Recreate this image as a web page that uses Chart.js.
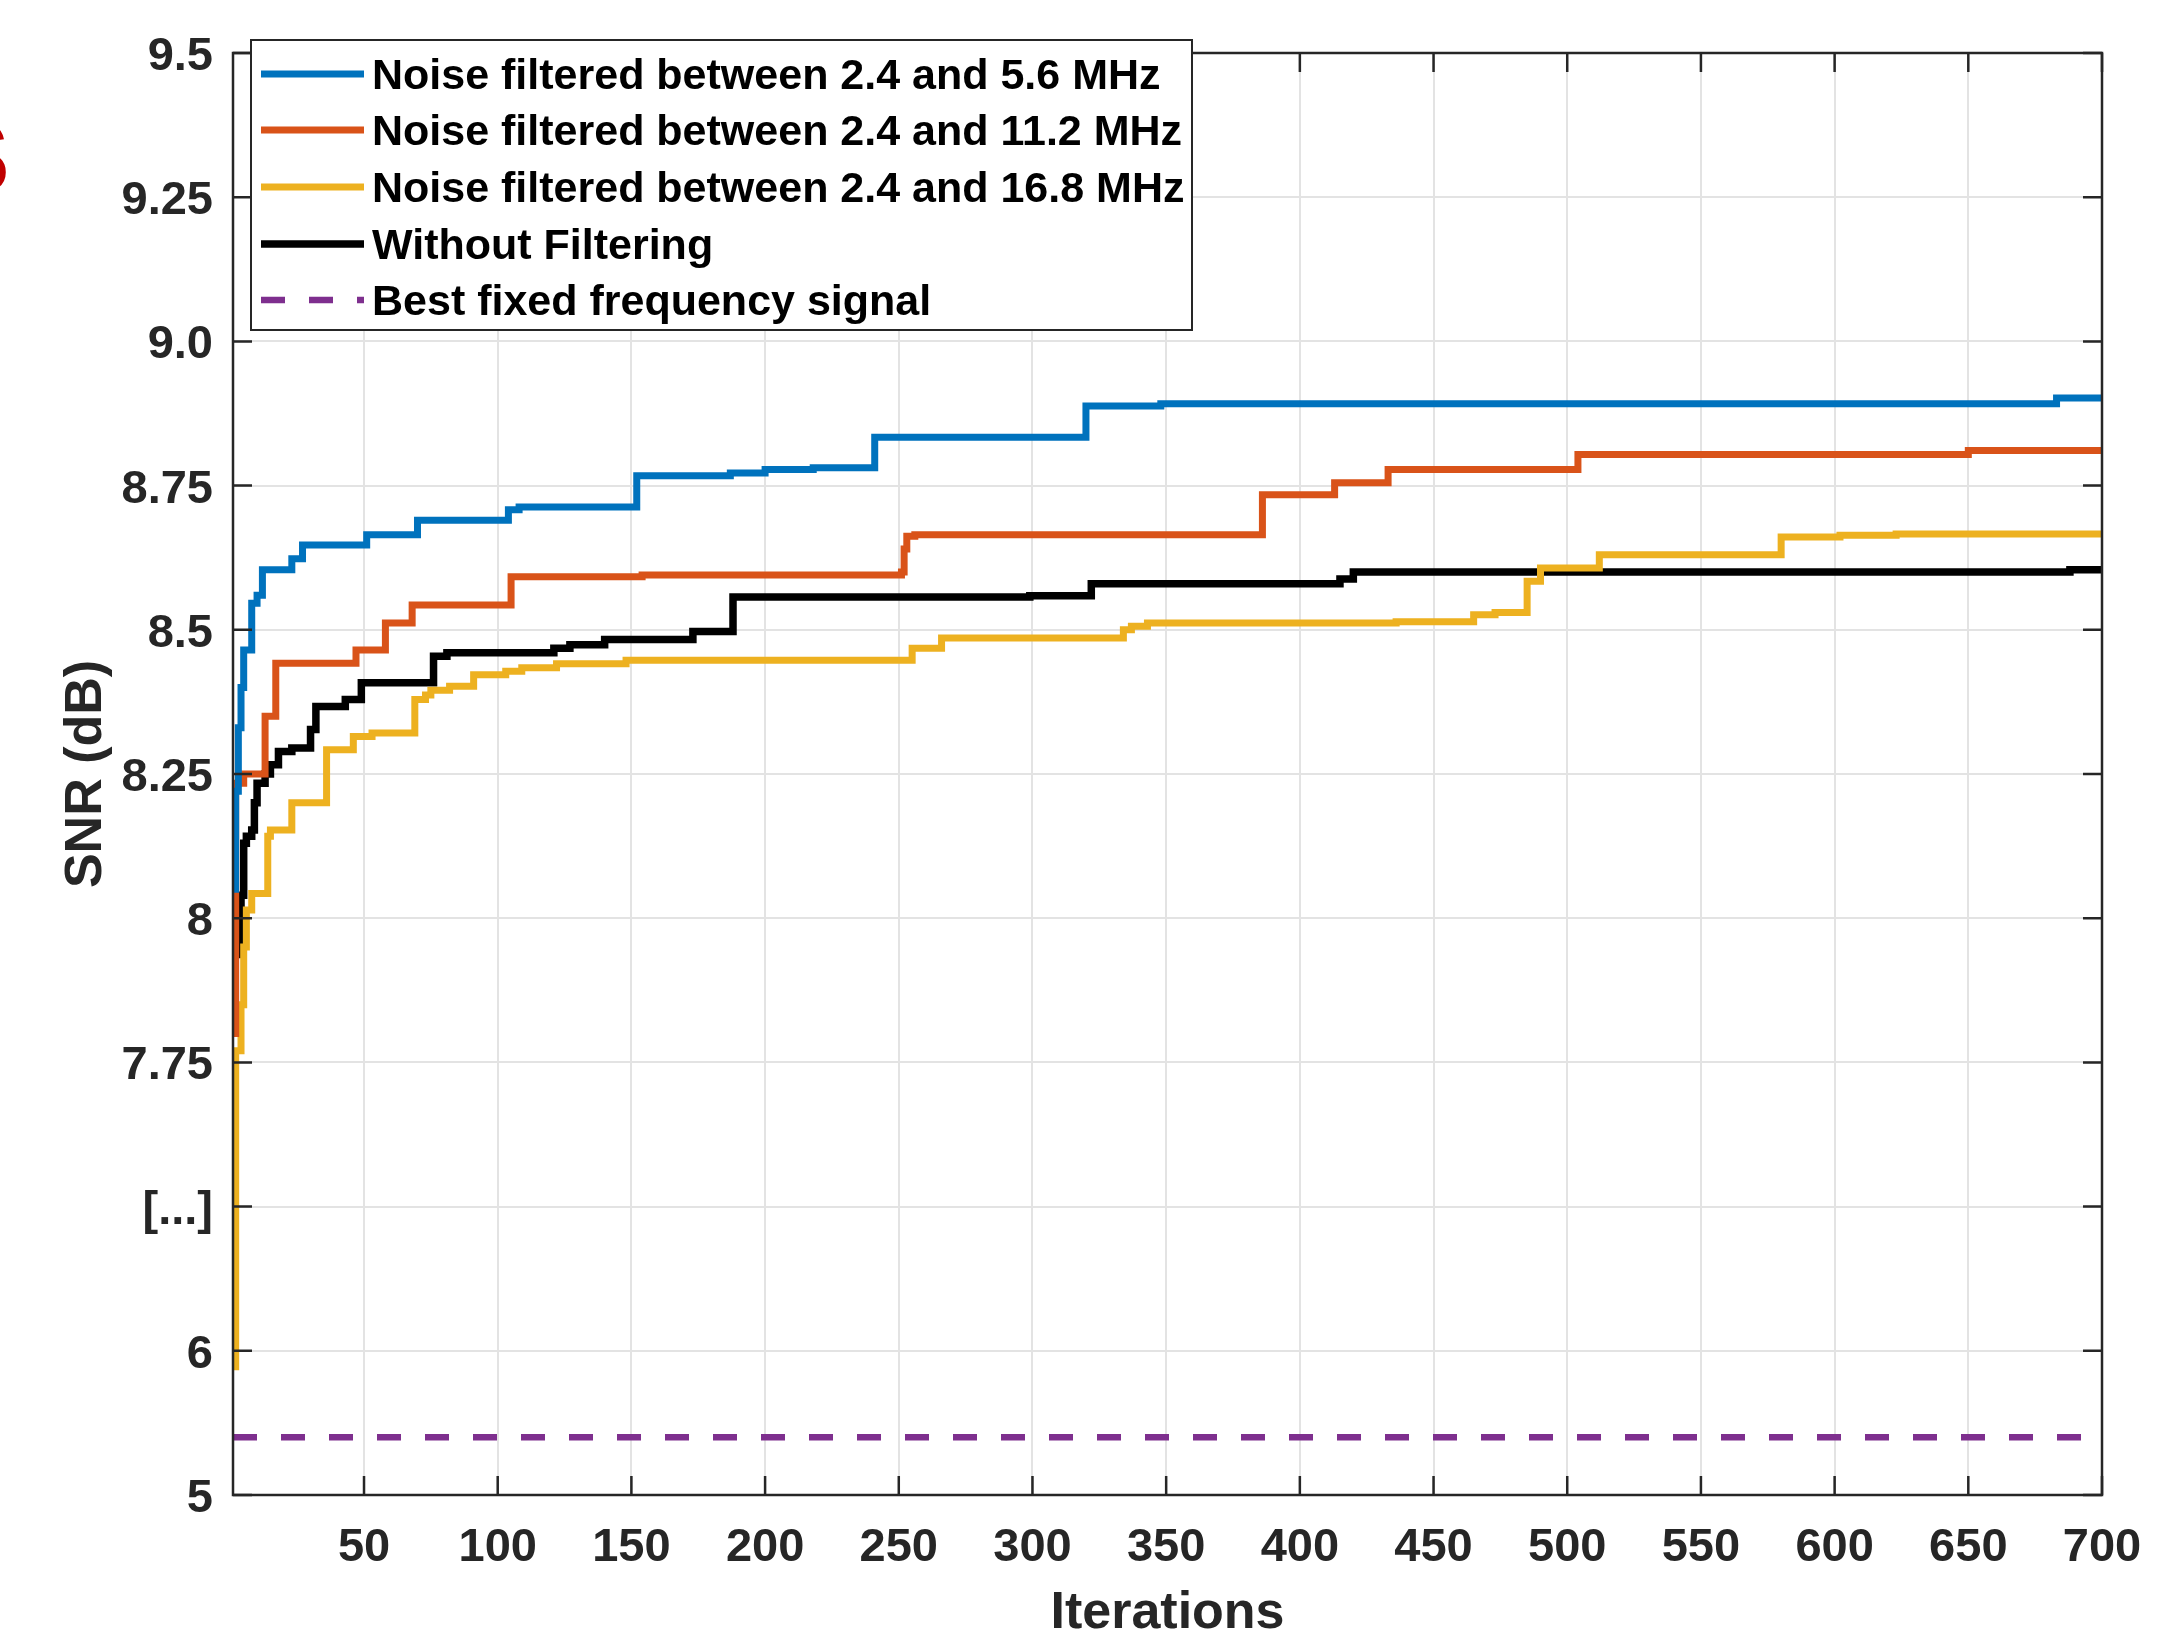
<!DOCTYPE html>
<html lang="en">
<head>
    <meta charset="UTF-8">
    <title>SNR vs Iterations</title>
    <script src="https://cdn.jsdelivr.net/npm/chart.js"></script>
    <style>
        body { margin: 0; background: #fff; }
        #wrap { position: relative; width: 2184px; height: 1637px; overflow: hidden; }
        #cut { position: absolute; left: -57px; top: 107px; font: bold 100px "Liberation Sans", Arial, sans-serif; line-height: 1; color: #c00000; }
    </style>
</head>
<body>
<div id="wrap">
    <canvas id="snrChart"></canvas>
    <div id="cut">S</div>
</div>

<script>
// iteration where each step starts, and the SNR value from there on
const blueX   = [1, 2, 3, 4, 5, 8, 10, 12, 23, 27, 51, 70, 104, 108, 152, 187, 200, 218, 241, 320, 348, 683, 700];
const blueY   = [8.05, 8.22, 8.33, 8.40, 8.465, 8.546, 8.56, 8.604, 8.623, 8.647, 8.665, 8.69, 8.708, 8.713, 8.767, 8.772, 8.778, 8.781, 8.834, 8.888, 8.892, 8.902, 8.902];

const orangeX = [1, 2, 5, 13, 17, 47, 58, 68, 105, 154, 251, 252, 253, 256, 386, 413, 433, 504, 650, 700];
const orangeY = [7.80, 8.234, 8.25, 8.35, 8.442, 8.465, 8.512, 8.543, 8.592, 8.595, 8.60, 8.64, 8.662, 8.665, 8.734, 8.755, 8.778, 8.804, 8.811, 8.811];

const yellowX = [1, 2, 4, 5, 6, 8, 14, 15, 23, 36, 46, 53, 69, 73, 75, 82, 91, 103, 109, 122, 148, 255, 266, 334, 337, 343, 436, 465, 473, 485, 490, 512, 580, 602, 623, 700];
const yellowY = [5.89, 7.77, 7.85, 7.95, 8.014, 8.043, 8.142, 8.153, 8.20, 8.292, 8.315, 8.321, 8.379, 8.387, 8.395, 8.402, 8.422, 8.428, 8.434, 8.441, 8.447, 8.468, 8.486, 8.50, 8.506, 8.512, 8.514, 8.526, 8.53, 8.584, 8.607, 8.63, 8.661, 8.664, 8.666, 8.666];

const blackX  = [1, 3, 4, 5, 6, 8, 9, 10, 13, 15, 18, 23, 30, 32, 43, 49, 76, 81, 121, 127, 140, 173, 188, 299, 322, 415, 420, 688, 700];
const blackY  = [7.937, 7.95, 8.04, 8.13, 8.142, 8.153, 8.20, 8.234, 8.25, 8.266, 8.289, 8.295, 8.327, 8.367, 8.379, 8.408, 8.454, 8.46, 8.468, 8.474, 8.483, 8.497, 8.557, 8.559, 8.58, 8.588, 8.60, 8.604, 8.604];

const bestX   = [1, 700];
const bestY   = [5.4, 5.4];

const seriesNames = [
    'Noise filtered between 2.4 and 5.6 MHz',
    'Noise filtered between 2.4 and 11.2 MHz',
    'Noise filtered between 2.4 and 16.8 MHz',
    'Without Filtering',
    'Best fixed frequency signal'
];

const xTicks = [50, 100, 150, 200, 250, 300, 350, 400, 450, 500, 550, 600, 650, 700];
const yTickValues = [5, 6, 7.5, 7.75, 8, 8.25, 8.5, 8.75, 9, 9.25, 9.5];
const yTickLabels = ['5', '6', '[...]', '7.75', '8', '8.25', '8.5', '8.75', '9.0', '9.25', '9.5'];

const FONT = '"Liberation Sans", Arial, Helvetica, sans-serif';
const AXIS = '#262626';

// broken y axis: 5..6, then a gap up to 7.5, then 7.5..9.5 in steps of 0.25 (all ticks evenly spaced)
function toAxis(v) {
    if (v <= 6) return v - 5;
    if (v < 7.5) return 1 + (v - 6) / 1.5;
    return 2 + (v - 7.5) / 0.25;
}
function fromAxis(a) {
    if (a <= 1) return a + 5;
    if (a < 2) return 6 + (a - 1) * 1.5;
    return 7.5 + (a - 2) * 0.25;
}

class BrokenScale extends Chart.LinearScale {
    getPixelForValue(value) {
        return this.getPixelForDecimal(toAxis(value) / 10);
    }
    getValueForPixel(pixel) {
        return fromAxis(this.getDecimalForPixel(pixel) * 10);
    }
}
BrokenScale.id = 'broken';
BrokenScale.defaults = Chart.LinearScale.defaults;
Chart.register(BrokenScale);

const pts = (xs, ys) => xs.map((x, i) => ({ x: x, y: ys[i] }));

// axis box with inward tick marks on all four sides (matlab style)
const boxPlugin = {
    id: 'box',
    afterDatasetsDraw(chart) {
        const { ctx, chartArea: a, scales } = chart;
        const len = 19;
        ctx.save();
        ctx.strokeStyle = AXIS;
        ctx.lineWidth = 2.5;
        ctx.beginPath();
        xTicks.forEach(v => {
            const px = scales.x.getPixelForValue(v);
            ctx.moveTo(px, a.bottom); ctx.lineTo(px, a.bottom - len);
            ctx.moveTo(px, a.top); ctx.lineTo(px, a.top + len);
        });
        yTickValues.forEach(v => {
            const py = scales.y.getPixelForValue(v);
            ctx.moveTo(a.left, py); ctx.lineTo(a.left + len, py);
            ctx.moveTo(a.right, py); ctx.lineTo(a.right - len, py);
        });
        ctx.stroke();
        ctx.strokeRect(a.left, a.top, a.right - a.left, a.bottom - a.top);
        ctx.restore();
    }
};

// legend box in the top left corner of the axes
const legendPlugin = {
    id: 'boxLegend',
    afterDraw(chart) {
        const ctx = chart.ctx;
        const x0 = 251, y0 = 40, w = 941, h = 290;
        const rowY = [74, 130, 187, 244, 300];
        ctx.save();
        ctx.fillStyle = '#fff';
        ctx.fillRect(x0, y0, w, h);
        ctx.strokeStyle = AXIS;
        ctx.lineWidth = 2;
        ctx.strokeRect(x0, y0, w, h);
        chart.data.datasets.forEach((ds, i) => {
            ctx.strokeStyle = ds.borderColor;
            ctx.lineWidth = ds.borderWidth;
            ctx.setLineDash(ds.borderDash || []);
            ctx.beginPath();
            ctx.moveTo(261, rowY[i]);
            ctx.lineTo(364, rowY[i]);
            ctx.stroke();
            ctx.setLineDash([]);
            ctx.fillStyle = '#000';
            ctx.font = 'bold 43px ' + FONT;
            ctx.textBaseline = 'middle';
            ctx.fillText(ds.label, 372, rowY[i] + 3);
        });
        ctx.restore();
    }
};

const ctx = document.getElementById('snrChart').getContext('2d');
new Chart(ctx, {
    type: 'line',
    data: {
        datasets: [
            { label: seriesNames[0], data: pts(blueX, blueY), borderColor: '#0072BD', borderWidth: 7 },
            { label: seriesNames[1], data: pts(orangeX, orangeY), borderColor: '#D95319', borderWidth: 7 },
            { label: seriesNames[2], data: pts(yellowX, yellowY), borderColor: '#EDB120', borderWidth: 7 },
            { label: seriesNames[3], data: pts(blackX, blackY), borderColor: '#000000', borderWidth: 7.5 },
            { label: seriesNames[4], data: pts(bestX, bestY), borderColor: '#7E2F8E', borderWidth: 6.5, borderDash: [24, 24] }
        ].map(ds => Object.assign({ stepped: true, pointRadius: 0, fill: false, tension: 0 }, ds))
    },
    options: {
        responsive: true,
        maintainAspectRatio: false,
        devicePixelRatio: 1,
        animation: false,
        layout: { padding: { left: 0, top: 53, right: 82, bottom: 0 } },
        plugins: {
            legend: { display: false },
            tooltip: { enabled: false }
        },
        scales: {
            x: {
                type: 'linear',
                min: 1,
                max: 700,
                afterBuildTicks: s => { s.ticks = xTicks.map(v => ({ value: v })); },
                afterFit: s => { s.height = 142; },
                grid: { color: '#e3e3e3', lineWidth: 2, drawTicks: false },
                border: { display: false },
                ticks: { color: AXIS, padding: 25, maxRotation: 0, autoSkip: false, font: { family: FONT, size: 47, weight: 'bold' } },
                title: { display: true, text: 'Iterations', color: AXIS, padding: { top: 0, bottom: -3 }, font: { family: FONT, size: 52, weight: 'bold', lineHeight: 1 } }
            },
            y: {
                type: 'broken',
                min: 5,
                max: 9.5,
                afterBuildTicks: s => { s.ticks = yTickValues.map(v => ({ value: v })); },
                afterFit: s => { s.width = 233; },
                grid: { color: '#e3e3e3', lineWidth: 2, drawTicks: false },
                border: { display: false },
                ticks: { color: AXIS, padding: 20, labelOffset: 4, autoSkip: false, callback: (v, i) => yTickLabels[i], font: { family: FONT, size: 47, weight: 'bold' } },
                title: { display: true, text: 'SNR (dB)', color: AXIS, padding: { top: 61, bottom: 0 }, font: { family: FONT, size: 52, weight: 'bold', lineHeight: 1 } }
            }
        }
    },
    plugins: [boxPlugin, legendPlugin]
});
</script>
</body>
</html>
